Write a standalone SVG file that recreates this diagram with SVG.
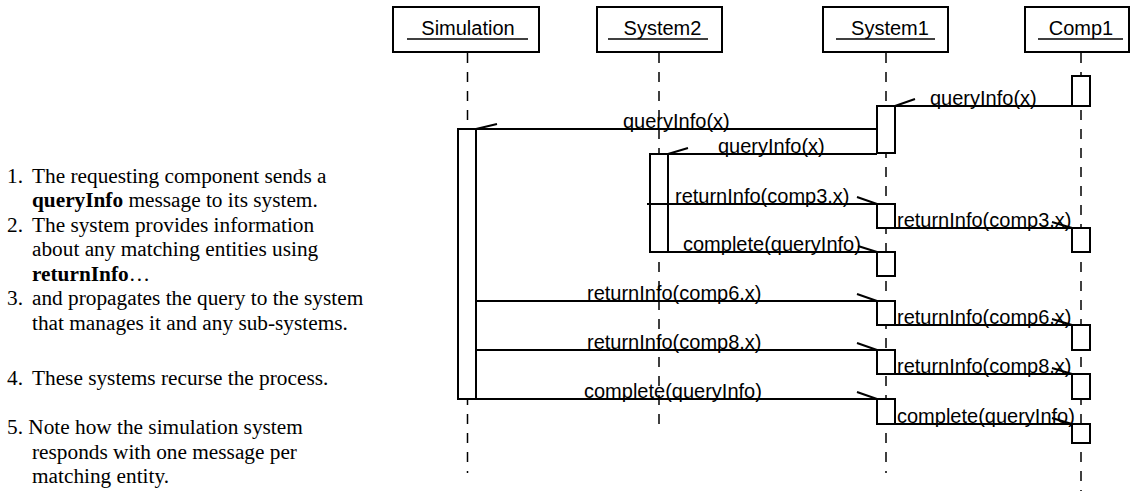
<svg xmlns="http://www.w3.org/2000/svg" width="1131" height="491" viewBox="0 0 1131 491">
<style>
.hdr{fill:#fff;stroke:#000;stroke-width:2}
.ul{stroke:#000;stroke-width:1.5}
.life{stroke:#000;stroke-width:1.5;stroke-dasharray:10 9;fill:none}
.act{fill:#fff;stroke:#000;stroke-width:2}
.msg{stroke:#000;stroke-width:2;fill:none}
.name{font-family:"Liberation Sans",Arial,sans-serif;font-size:20px;fill:#000;text-anchor:middle}
.lbl{font-family:"Liberation Sans",Arial,sans-serif;font-size:20px;fill:#000}
.note{font-family:"Liberation Serif","Times New Roman",serif;font-size:21.3px;fill:#000}
.b{font-weight:bold}
</style>
<rect width="1131" height="491" fill="#fff"/>

<g id="notes">
<text class="note" x="7" y="183">1.</text><text class="note" x="32" y="183">The requesting component sends a</text>
<text class="note" x="32" y="207"><tspan class="b">queryInfo</tspan> message to its system.</text>
<text class="note" x="7" y="232">2.</text><text class="note" x="32" y="232">The system provides information</text>
<text class="note" x="32" y="256">about any matching entities using</text>
<text class="note" x="32" y="281"><tspan class="b">returnInfo</tspan>…</text>
<text class="note" x="7" y="305">3.</text><text class="note" x="32" y="305">and propagates the query to the system</text>
<text class="note" x="32" y="330">that manages it and any sub-systems.</text>
<text class="note" x="7" y="385">4.</text><text class="note" x="32" y="385">These systems recurse the process.</text>
<text class="note" x="7" y="434">5. Note how the simulation system</text>
<text class="note" x="32" y="459">responds with one message per</text>
<text class="note" x="32" y="483">matching entity.</text>
</g>

<g id="lifeline-simulation">
<line class="life" x1="467.5" y1="53" x2="467.5" y2="473"/>
<rect class="hdr" x="393" y="7" width="146" height="45"/>
<text class="name" x="468" y="35">Simulation</text>
<line class="ul" x1="407" y1="39" x2="528" y2="39"/>
<rect class="act" x="458" y="129" width="18" height="270"/>
</g>

<g id="lifeline-system2">
<line class="life" x1="659" y1="53" x2="659" y2="430"/>
<rect class="hdr" x="597" y="7" width="125" height="45"/>
<text class="name" x="662.5" y="35">System2</text>
<line class="ul" x1="608" y1="39" x2="708" y2="39"/>
<rect class="act" x="650" y="154" width="18" height="98"/>
</g>

<g id="lifeline-system1">
<line class="life" x1="886" y1="53" x2="886" y2="473"/>
<rect class="hdr" x="823" y="7" width="125" height="45"/>
<text class="name" x="890" y="35">System1</text>
<line class="ul" x1="836" y1="39" x2="935" y2="39"/>
<rect class="act" x="877" y="106" width="18" height="47"/>
<rect class="act" x="877" y="204" width="18" height="24"/>
<rect class="act" x="877" y="252" width="18" height="24"/>
<rect class="act" x="877" y="301" width="18" height="24"/>
<rect class="act" x="877" y="350" width="18" height="24"/>
<rect class="act" x="877" y="399" width="18" height="25"/>
</g>

<g id="lifeline-comp1">
<line class="life" x1="1081" y1="53" x2="1081" y2="491"/>
<rect class="hdr" x="1025" y="7" width="104" height="45"/>
<text class="name" x="1081" y="35">Comp1</text>
<line class="ul" x1="1038" y1="39" x2="1123" y2="39"/>
<rect class="act" x="1072" y="76" width="18" height="30"/>
<rect class="act" x="1072" y="228" width="18" height="24"/>
<rect class="act" x="1072" y="325" width="18" height="25"/>
<rect class="act" x="1072" y="374" width="18" height="25"/>
<rect class="act" x="1072" y="424" width="18" height="19"/>
</g>

<g id="connectors">
<path class="msg" d="M1072 106H895M895 106L915 99"/>
<path class="msg" d="M877 129H476M476 129L497 124"/>
<path class="msg" d="M877 154H668M668 154L688 148"/>
<path class="msg" d="M647 204H877M877 204L857 197"/>
<path class="msg" d="M895 228H1072M1072 228L1052 222"/>
<path class="msg" d="M668 252H877M877 252L858 246"/>
<path class="msg" d="M476 301H877M877 301L857 294"/>
<path class="msg" d="M895 325H1072M1072 325L1052 319"/>
<path class="msg" d="M476 350H877M877 350L857 343"/>
<path class="msg" d="M895 374H1072M1072 374L1052 368"/>
<path class="msg" d="M476 399H877M877 399L857 392"/>
<path class="msg" d="M895 424H1072M1072 424L1052 418"/>
</g>

<g id="labels">
<text class="lbl" x="930" y="105">queryInfo(x)</text>
<text class="lbl" x="623" y="128">queryInfo(x)</text>
<text class="lbl" x="718" y="153">queryInfo(x)</text>
<text class="lbl" x="675" y="203">returnInfo(comp3.x)</text>
<text class="lbl" x="897" y="227">returnInfo(comp3.x)</text>
<text class="lbl" x="683" y="251">complete(queryInfo)</text>
<text class="lbl" x="587" y="300">returnInfo(comp6.x)</text>
<text class="lbl" x="897" y="324">returnInfo(comp6.x)</text>
<text class="lbl" x="587" y="349">returnInfo(comp8.x)</text>
<text class="lbl" x="897" y="373">returnInfo(comp8.x)</text>
<text class="lbl" x="584" y="398">complete(queryInfo)</text>
<text class="lbl" x="897" y="423">complete(queryInfo)</text>
</g>
</svg>
